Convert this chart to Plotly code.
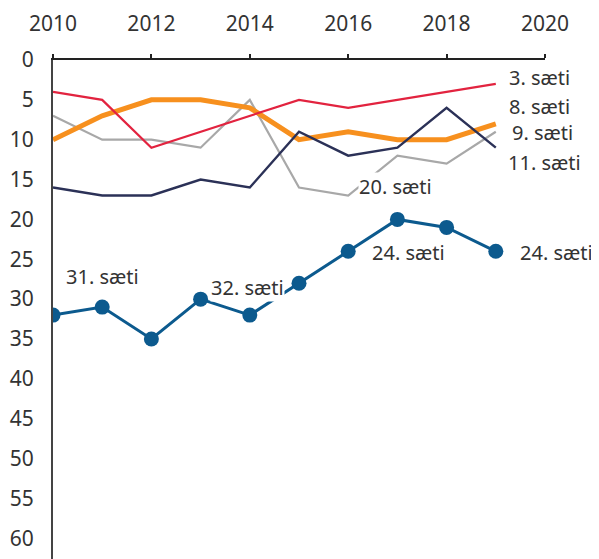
import plotly.graph_objects as go

years = [2010, 2011, 2012, 2013, 2014, 2015, 2016, 2017, 2018, 2019]
red = [4, 5, 11, 9, 7, 5, 6, 5, 4, 3]
orange = [10, 7, 5, 5, 6, 10, 9, 10, 10, 8]
gray = [7, 10, 10, 11, 5, 16, 17, 12, 13, 9]
navy = [16, 17, 17, 15, 16, 9, 12, 11, 6, 11]
blue = [32, 31, 35, 30, 32, 28, 24, 20, 21, 24]

x_ticks = [2010, 2012, 2014, 2016, 2018, 2020]
y_ticks = list(range(0, 61, 5))

labels = [
    # text, x, y
    ("3. sæti", 2019.25, 2.2),
    ("8. sæti", 2019.25, 5.8),
    ("9. sæti", 2019.31, 9.1),
    ("11. sæti", 2019.23, 12.8),
    ("20. sæti", 2016.19, 15.9),
    ("31. sæti", 2010.24, 27.2),
    ("32. sæti", 2013.2, 28.5),
    ("24. sæti", 2016.46, 24.2),
    ("24. sæti", 2019.47, 24.1),
]

font = "Noto Sans"
fig = go.Figure()
fig.add_trace(go.Scatter(x=years, y=gray, mode="lines",
                         line=dict(color="#a8a8a8", width=2.2)))
fig.add_trace(go.Scatter(x=years, y=orange, mode="lines",
                         line=dict(color="#f7901e", width=5)))
fig.add_trace(go.Scatter(x=years, y=red, mode="lines",
                         line=dict(color="#e2233f", width=2.2)))
fig.add_trace(go.Scatter(x=years, y=navy, mode="lines",
                         line=dict(color="#2b3157", width=2.4)))
fig.add_trace(go.Scatter(x=years, y=blue, mode="lines+markers",
                         line=dict(color="#0c5a8e", width=3),
                         marker=dict(color="#0c5a8e", size=15)))

for t, x, y in labels:
    fig.add_annotation(x=x, y=y, text=t, showarrow=False, xanchor="left",
                       yanchor="middle", bgcolor="white",
                       font=dict(family=font, size=20, color="#333333"),
                       borderpad=0)

fig.update_layout(
    width=599, height=559,
    margin=dict(l=45, r=62, t=52, b=8),
    plot_bgcolor="white", paper_bgcolor="white",
    showlegend=False,
    font=dict(family=font, size=21, color="#333333"),
)
fig.update_xaxes(range=[2010, 2020], side="top", tickvals=x_ticks,
                 showgrid=False, zeroline=False, showline=True,
                 linecolor="#222222", linewidth=2, ticks="outside",
                 ticklen=4, tickcolor="#222222", tickwidth=2,
                 ticklabelstandoff=15, tickfont=dict(size=21),
                 automargin=False)
fig.update_yaxes(range=[62.6, 0], tickvals=y_ticks, showgrid=False,
                 zeroline=False, showline=True, linecolor="#444444",
                 linewidth=2, ticks="", ticklabelstandoff=13,
                 tickfont=dict(size=21), automargin=False)

fig.write_html("out.html")
